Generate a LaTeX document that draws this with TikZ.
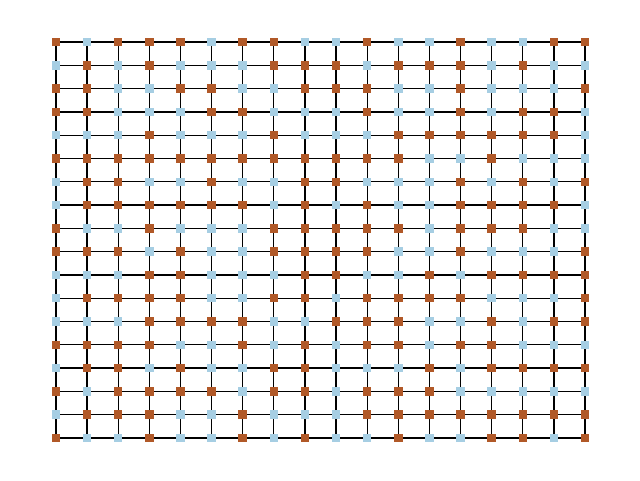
\documentclass[tikz,border=0pt]{standalone}
\usepackage{tikz}
\definecolor{cbrown}{HTML}{B15928}
\definecolor{cblue}{HTML}{A6CEE3}
\pgfdeclarelayer{bg}
\pgfsetlayers{bg,main}
\tikzset{
  cell/.style={rectangle, draw=none, minimum size=8.5pt, inner sep=0pt},
  c1/.style={fill=cbrown},
  c0/.style={fill=cblue},
  edge/.style={draw=black, line width=1.3pt}
}
\begin{document}
\begin{tikzpicture}[x=1pt,y=-1pt]
\useasboundingbox (0,0) rectangle (640,480);
\foreach \rowlist [count=\i] in {
{1,0,1,1,1,0,1,1,0,0,1,0,0,1,0,0,1,1},
{0,1,0,1,0,0,0,1,1,1,0,1,1,1,0,1,0,0},
{1,1,0,0,1,1,0,0,1,1,1,0,0,1,0,0,0,1},
{1,1,0,0,0,1,1,0,0,0,1,0,0,1,0,1,1,0},
{0,0,0,1,0,0,0,1,0,0,0,1,1,1,1,1,1,0},
{1,1,1,1,1,1,1,1,1,1,1,1,0,0,1,0,0,0},
{0,1,1,0,0,1,0,0,1,1,0,0,0,1,0,1,0,1},
{0,1,1,1,1,1,1,0,1,0,1,0,0,1,1,1,1,0},
{1,0,0,1,0,0,0,1,1,1,1,1,0,1,1,1,0,0},
{1,1,1,0,1,0,0,1,1,1,1,0,0,1,0,0,0,1},
{0,0,0,1,1,0,0,0,1,1,0,0,1,0,1,1,1,1},
{0,1,1,1,1,0,0,1,1,0,1,1,1,1,0,0,0,1},
{0,0,0,1,1,1,1,0,0,1,1,1,0,0,1,0,1,1},
{1,1,1,1,0,0,1,0,1,0,1,1,0,1,1,0,0,0},
{0,1,1,0,1,0,0,1,1,0,0,0,1,0,1,1,1,1},
{1,0,1,1,1,1,0,1,1,0,1,1,1,0,0,0,0,0},
{0,1,1,1,0,0,1,0,0,0,1,1,1,1,1,1,1,1},
{1,0,0,1,0,0,1,0,1,0,0,1,0,0,1,1,0,1}} {
  \foreach \c [count=\j] in \rowlist {
    \node[cell, c\c] (n-\i-\j) at ({56+(\j-1)*31.118},{42+(\i-1)*23.294}) {};
  }
}
\begin{pgfonlayer}{bg}
\foreach \i in {1,...,18} {
  \foreach \j in {1,...,17} {
    \pgfmathtruncatemacro{\k}{\j+1}
    \draw[edge] (n-\i-\j.center) -- (n-\i-\k.center);
    \draw[edge] (n-\j-\i.center) -- (n-\k-\i.center);
  }
}
\end{pgfonlayer}
\end{tikzpicture}
\end{document}
